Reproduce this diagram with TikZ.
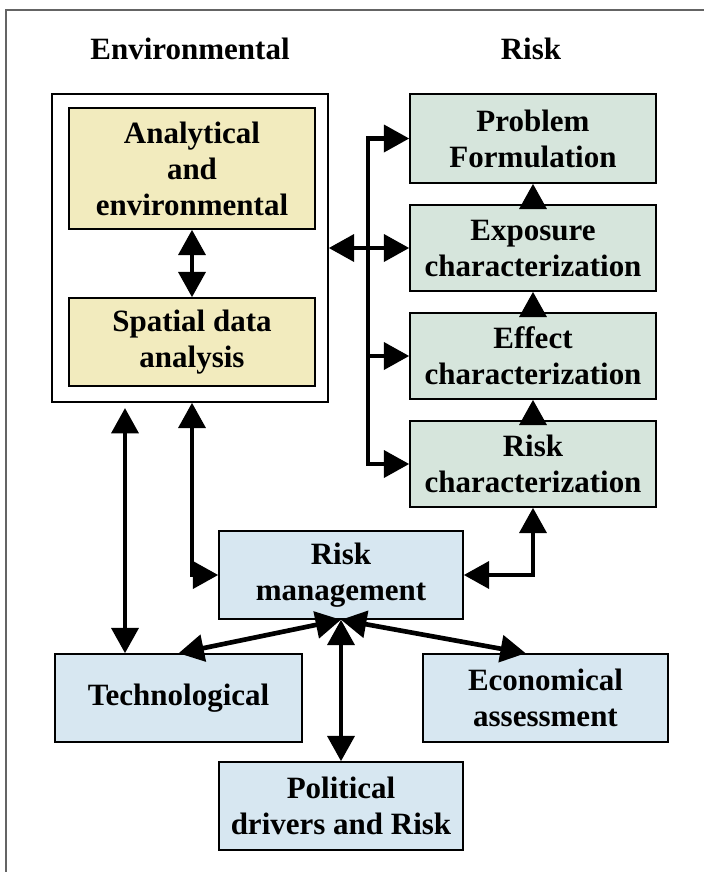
\documentclass[tikz,border=0pt]{standalone}
\usepackage{fontspec}
\setmainfont{Liberation Serif}
\usetikzlibrary{arrows.meta,calc}
\definecolor{yfill}{RGB}{242,235,190}
\definecolor{gfill}{RGB}{214,229,220}
\definecolor{bfill}{RGB}{215,231,241}
\definecolor{framegray}{RGB}{100,100,100}
\begin{document}
\begin{tikzpicture}[>={Triangle[length=19pt,width=20pt]},x=0.75pt,y=-0.75pt,
	txt/.style={font=\bfseries\fontsize{23.25}{27}\selectfont,align=center,inner sep=0pt},
	box/.style={txt,draw=black,line width=1.1pt,minimum width=184.5pt,minimum height=66pt},
	ybox/.style={box,fill=yfill},
	gbox/.style={box,fill=gfill,minimum height=64.5pt},
	bbox/.style={box,fill=bfill},
	conn/.style={line width=3.5pt}]
		\useasboundingbox (0,0) rectangle (704,872);
		\draw[framegray,line width=1.5pt] (6,872) -- (6,10) -- (704,10); % khung ngoai
		\node[txt] (envh) at (190,49) {Environmental};
		\node[txt] (riskh) at (531,49) {Risk};
		\node[draw=black,line width=1.1pt,fill=white,minimum width=207pt,minimum height=231pt] (cont) at (190,248) {};
		\node[ybox,minimum height=90.75pt] (ana) at (192,168.5) {Analytical\\and\\environmental};
		\node[ybox] (spa) at (192,342) {Spatial data\\analysis};
		\node[gbox,minimum height=66.75pt] (prob) at (533,138.5) {Problem\\Formulation};
		\node[gbox] (expo) at (533,248) {Exposure\\characterization};
		\node[gbox] (eff) at (533,356) {Effect\\characterization};
		\node[gbox] (rchar) at (533,464) {Risk\\characterization};
		\node[bbox,minimum width=183pt] (rman) at (341,575) {Risk\\management};
		\node[bbox,minimum width=185.25pt] (tech) at (178.5,698) {Technological};
		\node[bbox,minimum width=183.75pt] (eco) at (545.5,698) {Economical\\assessment};
		\node[bbox,minimum width=183pt] (pol) at (341,806) {Political\\drivers and Risk};
		\coordinate (bus) at (368,248);
		\coordinate (lt) at (125,408);
		% mui ten ben trai
		\draw[conn,<->] (ana) -- (spa);
		\draw[conn,<->] (cont.east) -- (expo.west);
		\draw[conn,->] (bus) |- (prob.west);
		\draw[conn,->] (bus) |- (eff.west);
		\draw[conn,->] (bus) |- (rchar.west);
		\draw[conn,->] (expo) -- (prob);
		\draw[conn,->] (eff) -- (expo);
		\draw[conn,->] (rchar) -- (eff);
		% mui ten ben duoi
		\draw[conn,<->] (cont.south -| spa) |- (rman.west);
		\draw[conn,<->] (lt) -- (lt |- tech.north);
		\draw[conn,<->] (rman.east) -| (rchar.south);
		\draw[conn,<->] (rman.south) -- (tech.north);
		\draw[conn,<->] (rman.south) -- ($(eco.north west)!0.42!(eco.north east)$);
		\draw[conn,<->] (rman.south) -- (pol.north);
\end{tikzpicture}
\end{document}
